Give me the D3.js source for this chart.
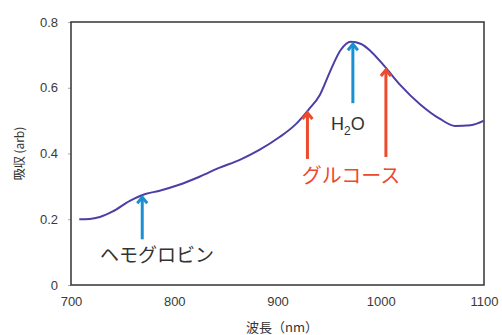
<!DOCTYPE html>
<html>
<head>
<meta charset="utf-8">
<script src="https://cdn.jsdelivr.net/npm/d3@7"></script>
<style>
  html, body { margin: 0; padding: 0; background: #fff; }
  svg { display: block; font-family: "Liberation Sans", Arial, sans-serif; }
</style>
</head>
<body>
<svg id="chart" width="502" height="335"></svg>
<script>
// Absorption spectrum (wavelength in nm, absorbance in arb. units)
const wavelengths = [708, 718, 728, 740, 757, 772, 785, 804, 825, 844, 863, 882, 902, 917, 930, 941, 951, 961, 971, 981, 990, 1004, 1019, 1038, 1057, 1072, 1087, 1100];
const absorbance  = [0.200, 0.201, 0.207, 0.223, 0.256, 0.277, 0.286, 0.304, 0.330, 0.357, 0.380, 0.410, 0.450, 0.487, 0.533, 0.578, 0.650, 0.714, 0.740, 0.733, 0.712, 0.664, 0.608, 0.550, 0.506, 0.484, 0.486, 0.500];

const xTicks = [700, 800, 900, 1000, 1100];
const yTicks = [0, 0.2, 0.4, 0.6, 0.8];

// Annotated absorption bands
const markers = [
  { name: "hemoglobin", wl: 769, color: "#1a8fd2", len: 43 },
  { name: "water",      wl: 973, color: "#1a8fd2", len: 60 },
  { name: "glucose1",   wl: 929, color: "#ec4a2c", len: 47 },
  { name: "glucose2",   wl: 1005, color: "#ec4a2c", len: 88 }
];

const svg = d3.select("#chart");
const m = { left: 71, right: 18, top: 22, bottom: 50 };
const W = 502, H = 335;

const x = d3.scaleLinear().domain([700, 1100]).range([m.left, W - m.right]);
const y = d3.scaleLinear().domain([0, 0.8]).range([H - m.bottom, m.top]);

const data = wavelengths.map((w, i) => ({ w, a: absorbance[i] }));

// Axes
const xAxis = svg.append("g")
  .attr("transform", `translate(0,${H - m.bottom})`)
  .call(d3.axisBottom(x).tickValues(xTicks).tickSize(0).tickPadding(12).tickFormat(d3.format("d")));
const yAxis = svg.append("g")
  .attr("transform", `translate(${m.left},0)`)
  .call(d3.axisLeft(y).tickValues(yTicks).tickSize(3).tickPadding(10).tickFormat(d => d === 0 ? "0" : d3.format(".1f")(d)));
[xAxis, yAxis].forEach(g => {
  g.select(".domain").remove();
  g.selectAll("text").attr("fill", "#3a3a3a").style("font-size", "13px");
  g.selectAll("line").attr("stroke", "#aaa");
});

// Plot frame
svg.append("rect")
  .attr("x", x(700)).attr("y", y(0.8))
  .attr("width", x(1100) - x(700)).attr("height", y(0) - y(0.8))
  .attr("fill", "none").attr("stroke", "#333").attr("stroke-width", 1.5);

// Spectrum curve
svg.append("path")
  .datum(data)
  .attr("fill", "none")
  .attr("stroke", "#4b3fa6")
  .attr("stroke-width", 2)
  .attr("d", d3.line().x(d => x(d.w)).y(d => y(d.a)).curve(d3.curveMonotoneX));

// Arrow for each band: tip sits on the curve at the band wavelength
const interp = w => {
  const i = d3.bisector(d => d.w).left(data, w);
  if (i <= 0) return data[0].a;
  const a = data[i - 1], b = data[i];
  const t = (w - a.w) / (b.w - a.w);
  return a.a + t * (b.a - a.a);
};
markers.forEach(mk => {
  const cx = x(mk.wl);
  const tipY = y(interp(mk.wl)) + 1;
  const g = svg.append("g").attr("stroke", mk.color).attr("fill", "none");
  g.append("line")
    .attr("x1", cx).attr("x2", cx)
    .attr("y1", tipY + mk.len).attr("y2", tipY + 2)
    .attr("stroke-width", 3);
  g.append("path")
    .attr("d", `M${cx - 5},${tipY + 7} L${cx},${tipY + 1} L${cx + 5},${tipY + 7}`)
    .attr("stroke-width", 3)
    .attr("stroke-linejoin", "miter");
});

// Labels
svg.append("text")
  .attr("x", 157).attr("y", 262)
  .attr("text-anchor", "middle")
  .attr("fill", "#333")
  .style("font-family", "'Noto Sans CJK JP', sans-serif")
  .style("font-size", "19px")
  .text("ヘモグロビン");

const h2o = svg.append("text")
  .attr("x", 331).attr("y", 130)
  .attr("fill", "#333")
  .style("font-size", "18px");
h2o.append("tspan").text("H");
h2o.append("tspan").attr("dy", 5).style("font-size", "12px").text("2");
h2o.append("tspan").attr("dy", -5).text("O");

svg.append("text")
  .attr("x", 351).attr("y", 183)
  .attr("text-anchor", "middle")
  .attr("fill", "#ec4a2c")
  .style("font-family", "'Noto Sans CJK JP', sans-serif")
  .style("font-size", "20px")
  .text("グルコース");

// Axis titles
svg.append("text")
  .attr("transform", `translate(24,${(y(0) + y(0.8)) / 2}) rotate(-90)`)
  .attr("text-anchor", "middle")
  .attr("fill", "#333")
  .style("font-family", "'Noto Sans CJK JP', sans-serif")
  .style("font-size", "12px")
  .text("吸収 (arb)");

svg.append("text")
  .attr("x", 282).attr("y", 332)
  .attr("text-anchor", "middle")
  .attr("fill", "#333")
  .style("font-family", "'Noto Sans CJK JP', sans-serif")
  .style("font-size", "13px")
  .text("波長（nm）");
</script>
</body>
</html>
